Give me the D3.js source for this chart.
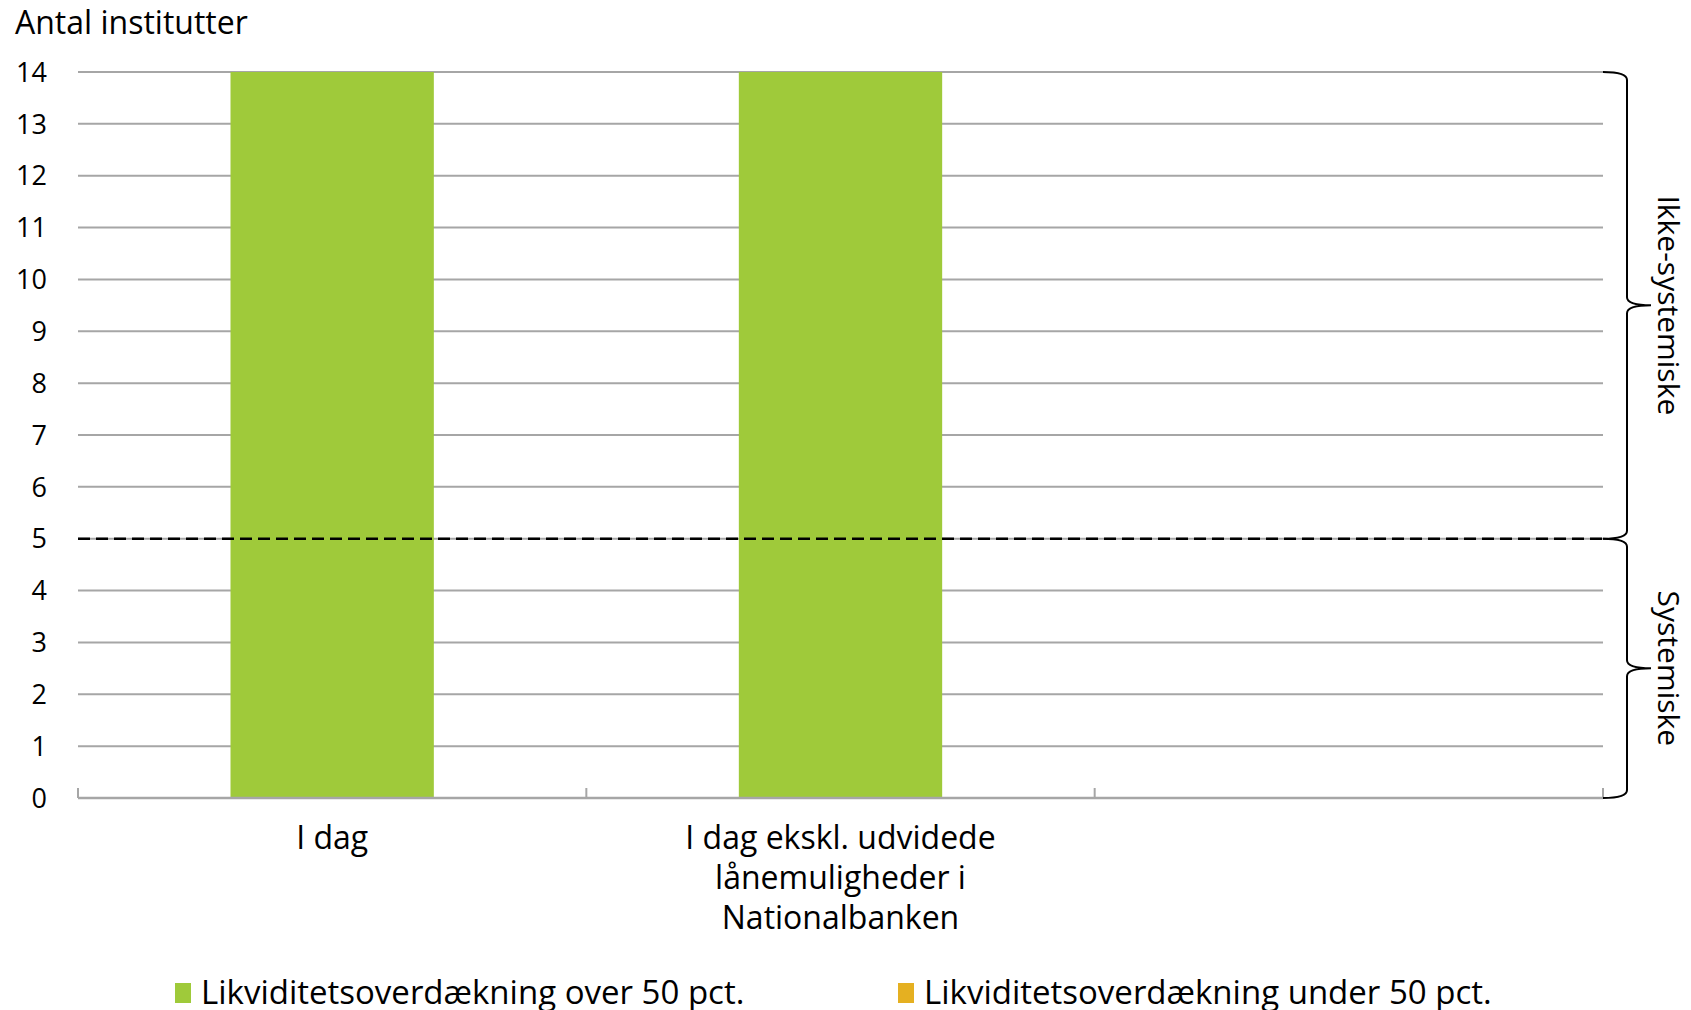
<!DOCTYPE html>
<html>
<head>
<meta charset="utf-8">
<script src="https://cdn.jsdelivr.net/npm/d3@7"></script>
<style>
  body { margin: 0; background: #fff; }
  text { font-family: "Open Sans", "Noto Sans", sans-serif; fill: #000; }
</style>
</head>
<body>
<div id="chart"></div>
<script>
// chart values
const categories = ["I dag", "I dag ekskl. udvidede lånemuligheder i Nationalbanken", ""];
const categoryLines = [["I dag"], ["I dag ekskl. udvidede", "lånemuligheder i", "Nationalbanken"], []];
const over50 = [14, 14, 0];
const under50 = [0, 0, 0];
const seriesNames = ["Likviditetsoverdækning over 50 pct.", "Likviditetsoverdækning under 50 pct."];
const seriesColors = ["#9fca3a", "#e5b021"];
const yTicks = [0, 1, 2, 3, 4, 5, 6, 7, 8, 9, 10, 11, 12, 13, 14];
const threshold = 5;
const groupNames = ["Ikke-systemiske", "Systemiske"];
const groupRanges = [[5, 14], [0, 5]];
const yTitle = "Antal institutter";

const W = 1691, H = 1010;
const margin = {top: 72, right: 88, bottom: 212, left: 78},
    width = W - margin.left - margin.right,
    height = H - margin.top - margin.bottom;

const svg = d3.select("#chart")
  .append("svg")
    .attr("width", W)
    .attr("height", H);

const g = svg.append("g")
    .attr("transform", `translate(${margin.left}, ${margin.top})`);

const x = d3.scaleBand()
  .domain(categories)
  .range([0, width])
  .paddingInner(0.6)
  .paddingOuter(0.3);

// band edges (for tick marks between categories)
const step = width / categories.length;

const y = d3.scaleLinear()
  .domain([0, 14])
  .range([height, 0]);

// gridlines
g.append("g")
  .selectAll("line")
  .data(yTicks.filter(d => d > 0))
  .enter()
  .append("line")
    .attr("x1", 0)
    .attr("x2", width)
    .attr("y1", d => y(d))
    .attr("y2", d => y(d))
    .attr("stroke", "#a6a6a6")
    .attr("stroke-width", 2);

// y tick labels
g.append("g")
  .selectAll("text")
  .data(yTicks)
  .enter()
  .append("text")
    .attr("x", -31)
    .attr("y", d => y(d))
    .attr("dy", "0.36em")
    .attr("text-anchor", "end")
    .attr("font-size", "27px")
    .text(d => d);

// y title
svg.append("text")
  .attr("x", 15)
  .attr("y", 34)
  .attr("font-size", "32px")
  .text(yTitle);

// stacked bars
const table = categories.map((c, i) => ({cat: c, s0: over50[i], s1: under50[i]}));
const stacked = d3.stack().keys(["s0", "s1"])(table);

g.append("g")
  .selectAll("g")
  .data(stacked)
  .enter()
  .append("g")
    .attr("fill", (d, i) => seriesColors[i])
  .selectAll("rect")
  .data(d => d)
  .enter()
  .append("rect")
    .attr("x", d => x(d.data.cat))
    .attr("width", x.bandwidth())
    .attr("y", d => y(d[1]))
    .attr("height", d => y(d[0]) - y(d[1]));

// x axis line and ticks
const xAxis = g.append("g").attr("transform", `translate(0, ${height})`);
xAxis.append("line")
  .attr("x1", 0).attr("x2", width)
  .attr("stroke", "#a6a6a6").attr("stroke-width", 2.5);
xAxis.selectAll(".tk")
  .data(d3.range(categories.length + 1))
  .enter()
  .append("line")
    .attr("x1", d => d * step).attr("x2", d => d * step)
    .attr("y1", 0).attr("y2", -10)
    .attr("stroke", "#a6a6a6").attr("stroke-width", 2);

// category labels
xAxis.selectAll(".lbl")
  .data(categories)
  .enter()
  .append("text")
    .attr("text-anchor", "middle")
    .attr("font-size", "32px")
    .attr("x", d => x(d) + x.bandwidth() / 2)
    .each(function(d, i) {
      d3.select(this).selectAll("tspan")
        .data(categoryLines[i])
        .enter()
        .append("tspan")
          .attr("x", x(d) + x.bandwidth() / 2)
          .attr("y", (t, j) => 51 + j * 40)
          .text(t => t);
    });

// threshold dashed line
g.append("line")
  .attr("x1", 0).attr("x2", width)
  .attr("y1", y(threshold)).attr("y2", y(threshold))
  .attr("stroke", "#000")
  .attr("stroke-width", 2.5)
  .attr("stroke-dasharray", "12,6");

// braces on the right
const bx0 = width, bx1 = width + 24, bx2 = width + 48;
function bracePath(top, bottom) {
  const mid = (top + bottom) / 2;
  const r = 8;
  return `M${bx0},${top} Q${bx1},${top} ${bx1},${top + r}` +
    ` L${bx1},${mid - r} Q${bx1},${mid} ${bx2},${mid}` +
    ` Q${bx1},${mid} ${bx1},${mid + r}` +
    ` L${bx1},${bottom - r} Q${bx1},${bottom} ${bx0},${bottom}`;
}
groupRanges.forEach((r, i) => {
  const top = y(r[1]), bottom = y(r[0]);
  g.append("path")
    .attr("d", bracePath(top, bottom))
    .attr("fill", "none")
    .attr("stroke", "#000")
    .attr("stroke-width", 2);
  g.append("text")
    .attr("transform", `translate(${width + 55}, ${(top + bottom) / 2}) rotate(90)`)
    .attr("text-anchor", "middle")
    .attr("font-size", "30px")
    .text(groupNames[i]);
});

// legend
const legendX = [175, 898];
const legend = svg.append("g");
seriesNames.forEach((n, i) => {
  legend.append("rect")
    .attr("x", legendX[i]).attr("y", 983)
    .attr("width", 16).attr("height", 20)
    .attr("fill", seriesColors[i]);
  legend.append("text")
    .attr("x", legendX[i] + 26).attr("y", 1004)
    .attr("font-size", "33px")
    .text(n);
});
</script>
</body>
</html>
